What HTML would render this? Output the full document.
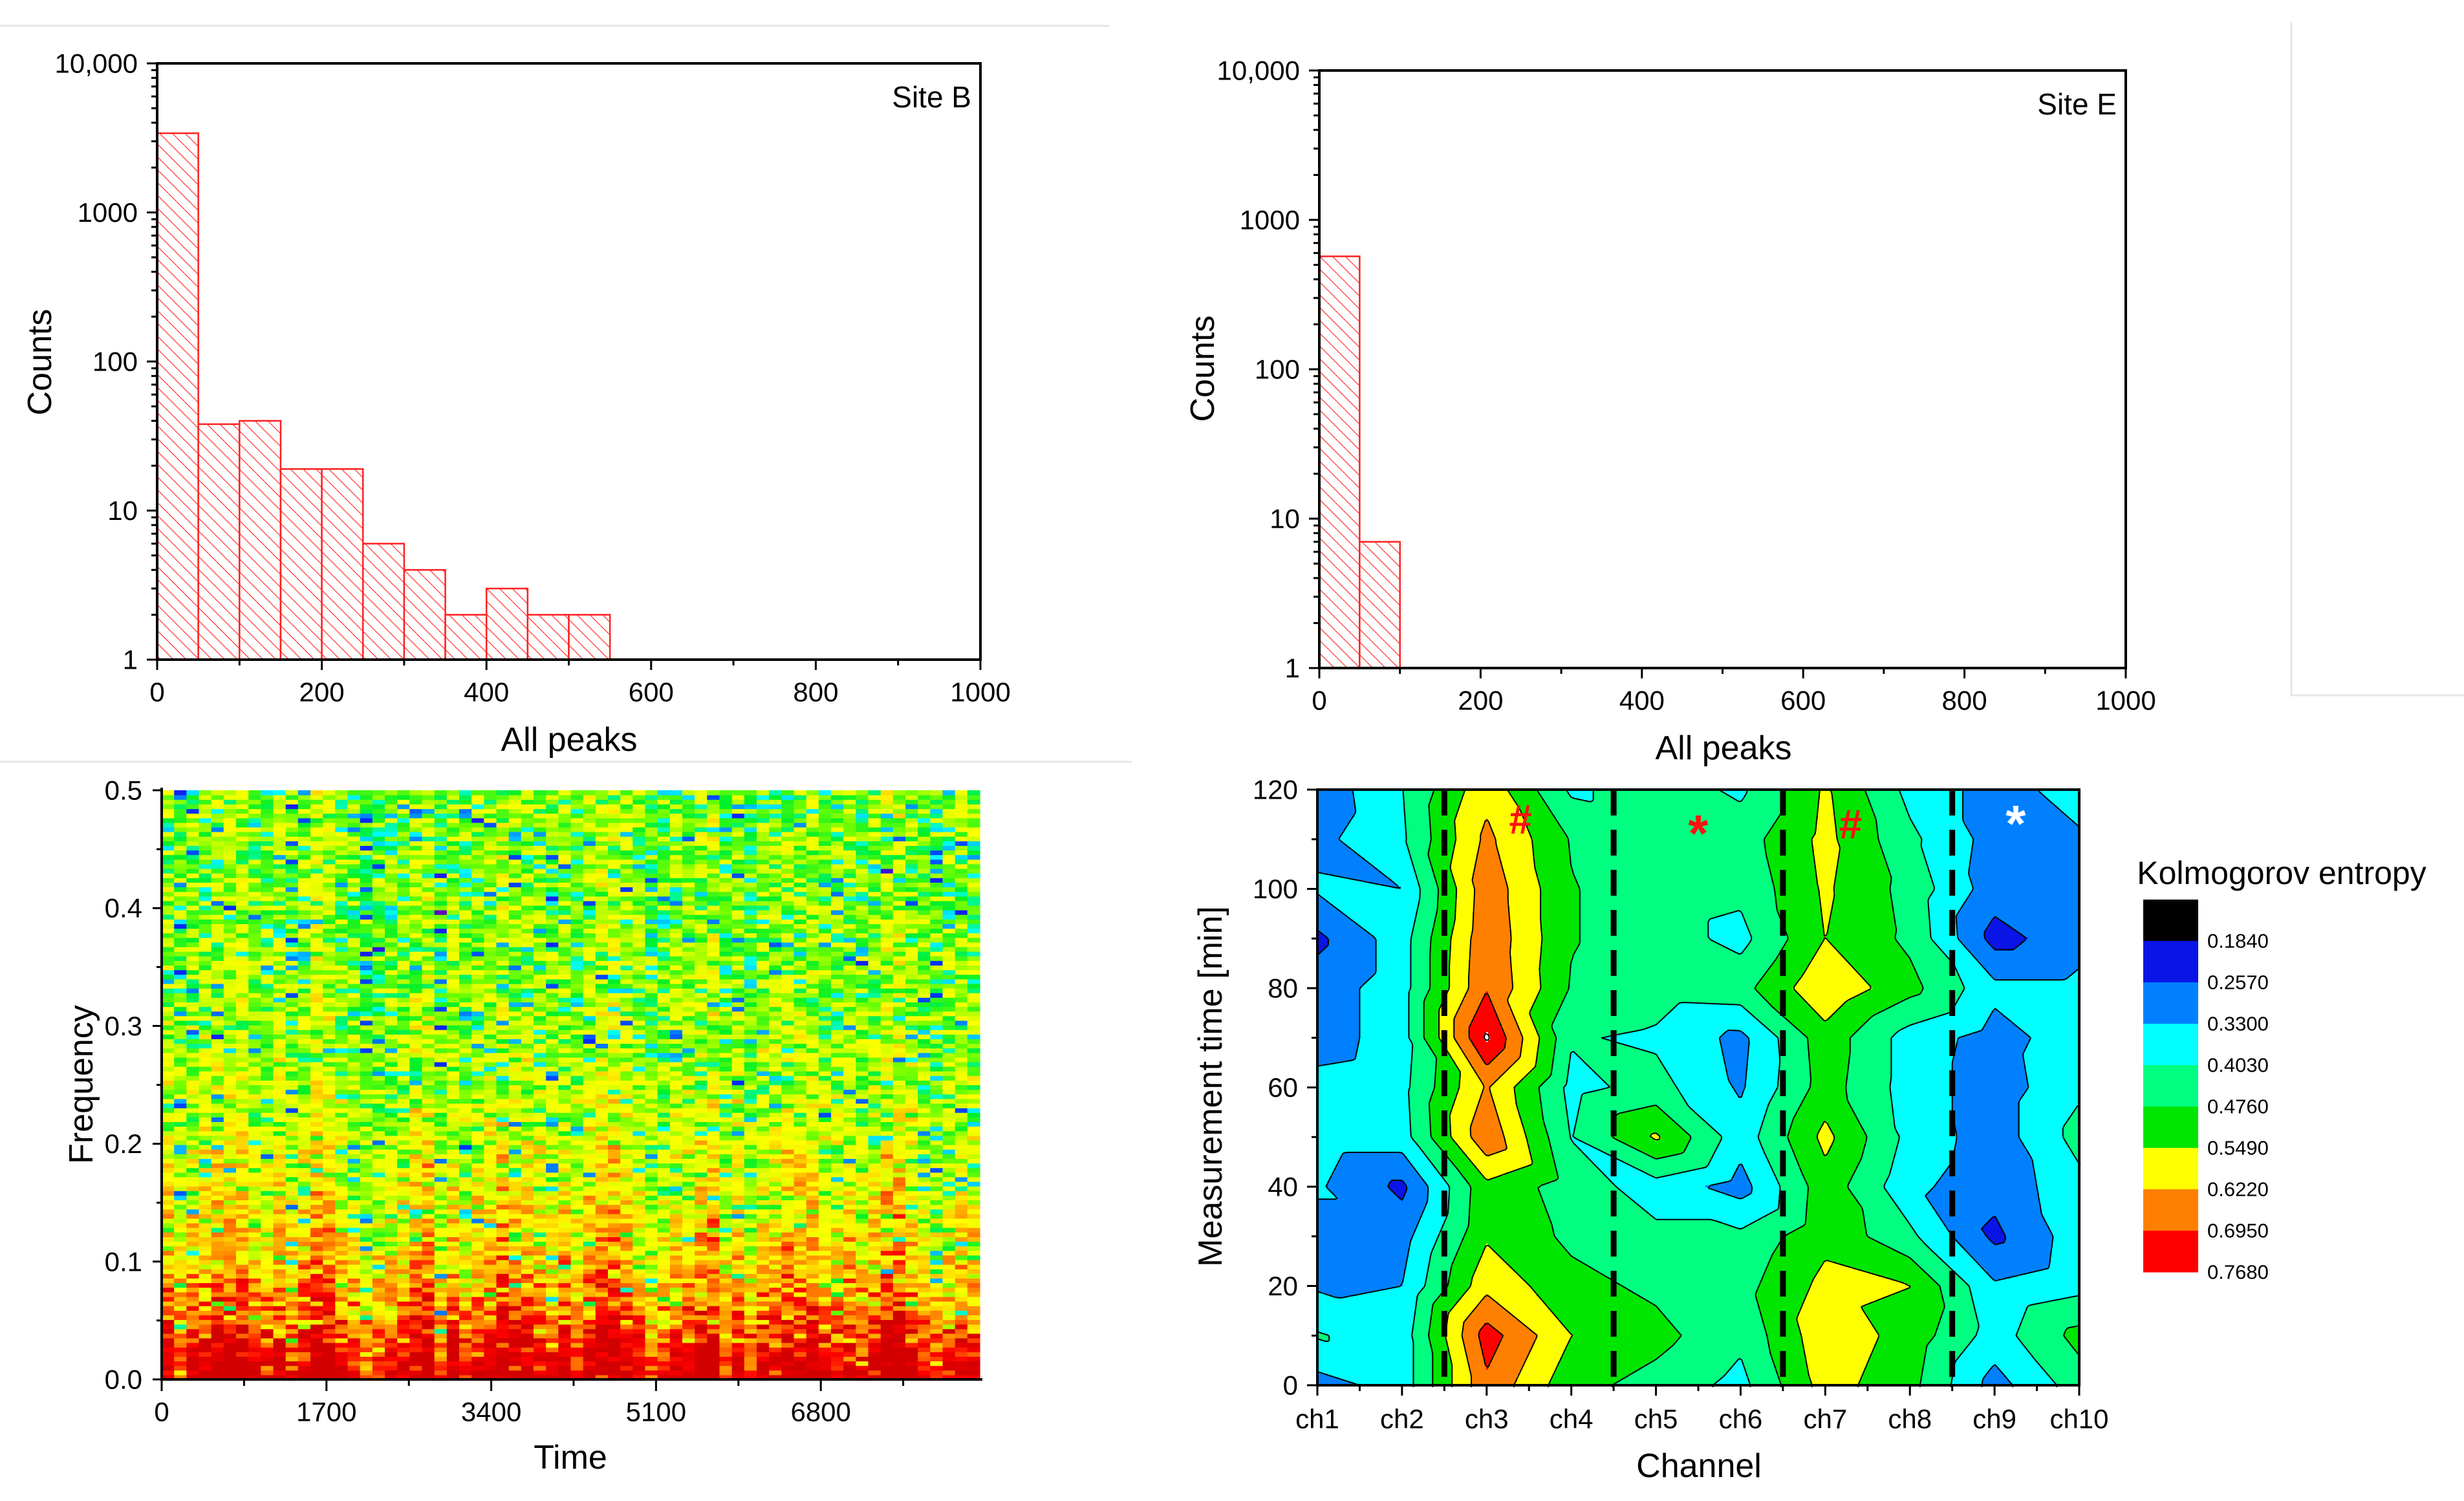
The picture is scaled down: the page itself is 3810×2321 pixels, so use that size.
<!DOCTYPE html>
<html><head><meta charset="utf-8">
<style>
html,body{margin:0;padding:0;background:#fff;}
svg{display:block;}
text{font-family:"Liberation Sans Narrow","Liberation Sans",sans-serif;fill:#000;}
.t{font-size:42px;}
.ttl{font-size:52px;font-family:"Liberation Sans",sans-serif;}
</style></head>
<body>
<svg id="root" xmlns="http://www.w3.org/2000/svg" width="3810" height="2321" viewBox="0 0 3810 2321">
<defs>
<pattern id="hatch" patternUnits="userSpaceOnUse" width="14" height="14" patternTransform="rotate(-45)">
<rect width="14" height="14" fill="#fff"/>
<line x1="0" y1="0" x2="0" y2="14" stroke="#ff3030" stroke-width="2.4"/>
</pattern>
</defs>
<line x1="0" y1="40" x2="1715" y2="40" stroke="#e6e6e6" stroke-width="3"/>
<line x1="0" y1="1178" x2="1750" y2="1178" stroke="#e6e6e6" stroke-width="3"/>
<path d="M3543 34 V1075 H3810" fill="none" stroke="#e6e6e6" stroke-width="3"/>
<g id="g1"></g>
<g id="g2"></g>
<g id="g3"></g>
<g id="g4"></g>
</svg>
<script>
// ---------- data ----------
const binEdgesB = [0,50,100,150,200,250,300,350,400,450,500,550];
const countsB = [3400,38,40,19,19,6,4,2,3,2,2];
const binEdgesE = [0,50,100];
const countsE = [570,7];
const histXTicks = [0,200,400,600,800,1000];
const histYTicks = [1,10,100,1000,10000];
const histYLabels = ["1","10","100","1000","10,000"];

// spectrogram: mean intensity profile over frequency (0..0.5 in steps of 0.025)
const specFreqProfile = [0.98,0.93,0.85,0.78,0.73,0.69,0.66,0.64,0.62,0.6,0.585,0.575,0.565,0.56,0.555,0.55,0.55,0.545,0.545,0.545,0.545];
const specNoise = [0.03,-0.06,0.08,-0.02,0.05,-0.09,0.01,0.07,-0.04,0.1,-0.08,0.02,-0.22,0.06,-0.03,0.09,-0.05,0.0,0.04,-0.11,0.07,-0.01,0.05,-0.07,0.11,-0.3,0.02,0.06,-0.04,0.08,-0.09,0.03,-0.02,0.1,-0.06,0.04,-0.15,0.07,0.01,-0.05,0.09,-0.03,0.05,-0.08,0.02,0.06,-0.38,0.08,-0.04,0.03,-0.1,0.07,0.0,-0.06,0.1,-0.02,0.04,-0.07,0.08,-0.18,0.05,-0.01,0.06,-0.09,0.03,0.09,-0.05,0.02,-0.12,0.07,-0.03,0.05,0.01,-0.08,0.1,-0.04,0.06,-0.25,0.03,0.08,-0.06,0.02,0.04,-0.1,0.09,-0.02,0.05];
const specColJitter = [0.02,-0.01,0.03,0.0,-0.02,0.04,0.01,-0.03,0.02,0.05,-0.01,0.0,0.03,-0.02,0.01,0.04,-0.03,0.02,0.0,0.03,-0.04,0.01,0.05];
const specXTicks = [0,1700,3400,5100,6800];
const specYTicks = [0,0.1,0.2,0.3,0.4,0.5];
const specCols = 66, specRows = 128, specXMax = 8440;

// contour grid: rows t=0..120 step 10, cols ch1..ch10
const chLabels = ["ch1","ch2","ch3","ch4","ch5","ch6","ch7","ch8","ch9","ch10"];
const timeTicks = [0,20,40,60,80,100,120];
const entropyCh1 = [0.30,0.41,0.32,0.30,0.34,0.37,0.36,0.29,0.29,0.24,0.34,0.31,0.28];
const entropyCh2 = [0.36,0.36,0.33,0.30,0.24,0.37,0.38,0.37,0.37,0.37,0.33,0.39,0.40];
const entropyCh3 = [0.68,0.73,0.60,0.54,0.53,0.68,0.63,0.78,0.69,0.68,0.67,0.64,0.60];
const entropyCh4 = [0.50,0.55,0.50,0.46,0.44,0.40,0.38,0.41,0.47,0.48,0.48,0.47,0.39];
const entropyCh5 = [0.45,0.50,0.46,0.42,0.37,0.56,0.43,0.39,0.44,0.44,0.44,0.44,0.44];
const entropyCh6 = [0.38,0.42,0.45,0.42,0.30,0.36,0.32,0.31,0.45,0.38,0.42,0.44,0.39];
const entropyCh7 = [0.58,0.60,0.57,0.53,0.52,0.57,0.51,0.52,0.61,0.55,0.56,0.57,0.56];
const entropyCh8 = [0.50,0.52,0.55,0.42,0.35,0.38,0.37,0.37,0.50,0.46,0.45,0.42,0.38];
const entropyCh9 = [0.30,0.37,0.34,0.24,0.28,0.29,0.29,0.30,0.35,0.23,0.29,0.30,0.30];
const entropyCh10 = [0.44,0.50,0.38,0.37,0.38,0.43,0.39,0.37,0.35,0.30,0.30,0.32,0.36];
const entropyLevels = [0.184,0.257,0.330,0.403,0.476,0.549,0.622,0.695,0.768];
const levelLabels = ["0.1840","0.2570","0.3300","0.4030","0.4760","0.5490","0.6220","0.6950","0.7680"];

// ---------- helpers ----------
const NS="http://www.w3.org/2000/svg";
function mk(tag, parent, attrs){const e=document.createElementNS(NS,tag);for(const k in attrs)e.setAttribute(k,attrs[k]);parent.appendChild(e);return e;}
function txt(parent,x,y,s,cls,anchor,extra){const e=mk('text',parent,Object.assign({x:x,y:y,'class':cls,'text-anchor':anchor||'middle','dominant-baseline':'central'},extra||{}));e.textContent=s;return e;}

// ---------- histograms ----------
function histogram(g, box, edges, counts, siteLabel, ylabX, ylabY, xlabX){
  const [L,T,R,B]=box;
  const xs=v=>L+v/1000*(R-L);
  const ys=v=>B-Math.log10(v)/4*(B-T);
  for(let i=0;i<counts.length;i++){
    const r=mk('rect',g,{x:xs(edges[i]),y:ys(counts[i]),width:xs(edges[i+1])-xs(edges[i]),height:B-ys(counts[i]),fill:'url(#hatch)',stroke:'#ff2020','stroke-width':2.5});
    
    
  }
  const fr=mk('rect',g,{x:L,y:T,width:R-L,height:B-T,fill:'none',stroke:'#000','stroke-width':4});
  
  
  let d='';
  histXTicks.forEach(v=>{d+=`M${xs(v)} ${B}v16`;});
  for(let v=100;v<1000;v+=200)d+=`M${xs(v)} ${B}v9`;
  histYTicks.forEach(v=>{d+=`M${L} ${ys(v)}h-16`;});
  for(let e=0;e<4;e++)for(let m=2;m<10;m++)d+=`M${L} ${ys(m*Math.pow(10,e))}h-9`;
  const tk=mk('path',g,{d:d,stroke:'#000','stroke-width':3,fill:'none'});
  
  
  histXTicks.forEach(v=>{const t=txt(g,xs(v),B+50,String(v),'t');});
  histYTicks.forEach((v,i)=>{const t=txt(g,L-30,ys(v),histYLabels[i],'t','end');});
  const s=txt(g,R-14,T+52,siteLabel,'t','end',{style:'font-size:46px'});
  
  
  const yl=txt(g,ylabX,ylabY,'Counts','ttl','middle',{transform:`rotate(-90 ${ylabX} ${ylabY})`});
  
  
  const xl=txt(g,xlabX,B+124,'All peaks','ttl');
  
  
}
histogram(document.getElementById('g1'),[243,98,1516,1020],binEdgesB,countsB,'Site B',62,560,880);
histogram(document.getElementById('g2'),[2040,109,3287,1033],binEdgesE,countsE,'Site E',1860,570,2665);

// ---------- spectrogram ----------
(function(){
  const g=document.getElementById('g3');
  const L=250,T=1222,R=1515,B=2133;
  const xs=v=>L+v/specXMax*(R-L);
  const ys=v=>B-v/0.5*(B-T);
  const stops=[[0,[96,0,192]],[0.15,[0,40,255]],[0.3,[0,170,255]],[0.38,[0,255,255]],[0.47,[0,240,40]],[0.56,[120,255,0]],[0.63,[230,255,0]],[0.7,[255,255,0]],[0.78,[255,180,0]],[0.86,[255,110,0]],[0.93,[255,0,0]],[1.0,[210,0,0]]];
  function cmap(v){v=Math.max(0,Math.min(1,v));for(let i=1;i<stops.length;i++){if(v<=stops[i][0]){const a=stops[i-1],b=stops[i],f=(v-a[0])/(b[0]-a[0]);const c=a[1].map((x,k)=>Math.round(x+(b[1][k]-x)*f));return `rgb(${c[0]},${c[1]},${c[2]})`;}}return 'rgb(210,0,0)';}
  const cw=(R-L)/specCols, rh=(B-T)/specRows;
  const cells=mk('g',g,{});
  
  
  const N=specNoise.length;
  for(let r=0;r<specRows;r++){
    const f=(r+0.5)/specRows*0.5;
    const p=f/0.025, i0=Math.min(Math.floor(p),specFreqProfile.length-2), fr=p-i0;
    const base=specFreqProfile[i0]*(1-fr)+specFreqProfile[i0+1]*fr;
    const amp=f<0.03?0.5:1;
    for(let c=0;c<specCols;c++){
      const i1=(r*r*7+c*31+r*c*3+5)%N;
      const i2=(c*c*11+r*17+r*r*c+3)%N;
      const n=specNoise[i1]+specNoise[i2]*0.6;
      const v=base+amp*n+specColJitter[(c*7)%specColJitter.length]*(f<0.2?2:1);
      const e=mk('rect',cells,{x:(L+c*cw).toFixed(1),y:(B-(r+1)*rh).toFixed(1),width:(cw+0.6).toFixed(1),height:(rh+0.6).toFixed(1),fill:cmap(v)});
      
      
    }
  }
  let d=`M${L} ${T-4}V${B}H${R+4}`;
  const ax=mk('path',g,{d:d,stroke:'#000','stroke-width':4,fill:'none'});
  
  
  let t='';
  specXTicks.forEach(v=>{t+=`M${xs(v)} ${B}v18`;});
  for(let v=850;v<specXMax;v+=1700)t+=`M${xs(v)} ${B}v10`;
  specYTicks.forEach(v=>{t+=`M${L} ${ys(v)}h-14`;});
  for(let v=0.05;v<0.5;v+=0.1)t+=`M${L} ${ys(v)}h-8`;
  const tk=mk('path',g,{d:t,stroke:'#000','stroke-width':3,fill:'none'});
  
  
  specXTicks.forEach(v=>{const e=txt(g,xs(v),B+50,String(v),'t');});
  specYTicks.forEach(v=>{const e=txt(g,L-30,ys(v),v.toFixed(1),'t','end');});
  const yl=txt(g,126,1677,'Frequency','ttl','middle',{transform:'rotate(-90 126 1677)'});
  
  
  const xl=txt(g,882,2254,'Time','ttl');
  
  
})();

// ---------- contour ----------
(function(){
  const g=document.getElementById('g4');
  const L=2037,T=1221,R=3215,B=2142;
  const cols=[entropyCh1,entropyCh2,entropyCh3,entropyCh4,entropyCh5,entropyCh6,entropyCh7,entropyCh8,entropyCh9,entropyCh10];
  const nC=cols.length, nT=cols[0].length;
  const xs=i=>L+i/(nC-1)*(R-L);
  const ys=v=>B-v/120*(B-T);
  function val(ci,ti){
    ci=Math.max(0,Math.min(nC-1.0001,ci));ti=Math.max(0,Math.min(nT-1.0001,ti));
    const i=Math.floor(ci),j=Math.floor(ti),a=ci-i,b=ti-j;
    const v00=cols[i][j],v10=cols[i+1][j],v01=cols[i][j+1],v11=cols[i+1][j+1];
    if(a+b<=1)return v00+(v10-v00)*a+(v01-v00)*b;
    return v11+(v01-v11)*(1-a)+(v10-v11)*(1-b);
  }
  const bandColors=['#000000','#0a14e6','#0080ff','#00ffff','#00ff80','#00e600','#ffff00','#ff8000','#ff0000','#ffffff'];
  function band(v){let k=0;while(k<entropyLevels.length&&v>=entropyLevels[k])k++;return k;}
  const fill=mk('g',g,{});
  
  
  const st=3;
  const W=R-L,H=B-T;
  for(let py=0;py<H;py+=st){
    const ti=(H-py-st/2)/H*(nT-1);
    let runStart=0,runBand=band(val((st/2)/W*(nC-1),ti));
    let px=st;
    while(true){
      const done=px>=W;
      const bnd=done?-1:band(val((px+st/2)/W*(nC-1),ti));
      if(bnd!==runBand){
        const e=mk('rect',fill,{x:L+runStart,y:T+py,width:Math.min(px,W)-runStart+0.6,height:st+0.6,fill:bandColors[runBand]});
        
        
        runStart=px;runBand=bnd;
      }
      if(done)break;
      px+=st;
    }
  }
  // contour lines (marching squares)
  const s=4, nx=Math.ceil(W/s), ny=Math.ceil(H/s);
  const grid=[];
  for(let j=0;j<=ny;j++){const row=[];for(let i=0;i<=nx;i++){row.push(val(Math.min(i*s,W)/W*(nC-1),(H-Math.min(j*s,H))/H*(nT-1)));}grid.push(row);}
  let d='';
  entropyLevels.forEach(lv=>{
    for(let j=0;j<ny;j++)for(let i=0;i<nx;i++){
      const a=grid[j][i],b=grid[j][i+1],c=grid[j+1][i+1],e=grid[j+1][i];
      const x0=L+i*s,y0=T+j*s;
      const pts=[];
      if((a>=lv)!==(b>=lv))pts.push([x0+s*(lv-a)/(b-a),y0]);
      if((b>=lv)!==(c>=lv))pts.push([x0+s,y0+s*(lv-b)/(c-b)]);
      if((e>=lv)!==(c>=lv))pts.push([x0+s*(lv-e)/(c-e),y0+s]);
      if((a>=lv)!==(e>=lv))pts.push([x0,y0+s*(lv-a)/(e-a)]);
      for(let k=0;k+1<pts.length;k+=2)d+=`M${pts[k][0].toFixed(1)} ${pts[k][1].toFixed(1)}L${pts[k+1][0].toFixed(1)} ${pts[k+1][1].toFixed(1)}`;
    }
  });
  const cl=mk('path',g,{d:d,stroke:'#000','stroke-width':2,fill:'none'});
  
  
  [1.5,3.5,5.5,7.5].forEach(c=>{
    const e=mk('line',g,{x1:xs(c),y1:T,x2:xs(c),y2:B,stroke:'#000','stroke-width':9,'stroke-dasharray':'40 22'});
    
    
  });
  [[2.4,114,'#','#ff1010'],[4.5,113,'*','#ff1010'],[6.3,113,'#','#ff1010'],[8.25,115,'*','#ffffff']].forEach(m=>{
    const e=txt(g,xs(m[0]),ys(m[1]),m[2],'t','middle',{style:`font-size:${m[2]==='*'?80:64}px;font-weight:bold;fill:${m[3]};font-family:'Liberation Sans',sans-serif`,dy:m[2]==='*'?'14':'0'});
    
    
  });
  const fr=mk('rect',g,{x:L,y:T,width:W,height:H,fill:'none',stroke:'#000','stroke-width':4});
  
  
  let t='';
  chLabels.forEach((c,i)=>{t+=`M${xs(i)} ${B}v16`;});
  for(let i=0.5;i<nC-1;i+=1)t+=`M${xs(i)} ${B}v9`;
  timeTicks.forEach(v=>{t+=`M${L} ${ys(v)}h-16`;});
  for(let v=10;v<120;v+=20)t+=`M${L} ${ys(v)}h-9`;
  const tk=mk('path',g,{d:t,stroke:'#000','stroke-width':3,fill:'none'});
  
  
  chLabels.forEach((c,i)=>{const e=txt(g,xs(i),B+52,c,'t');});
  timeTicks.forEach(v=>{const e=txt(g,L-30,ys(v),String(v),'t','end');});
  const yl=txt(g,1872,1680,'Measurement time [min]','ttl','middle',{transform:'rotate(-90 1872 1680)'});
  
  
  const xl=txt(g,2627,2267,'Channel','ttl');
  
  
  const cb=mk('g',g,{});
  
  
  for(let k=0;k<9;k++){
    const e=mk('rect',cb,{x:3314,y:1391+64*k,width:85,height:64.5,fill:bandColors[k]});
    
    
  }
  levelLabels.forEach((s,k)=>{const e=txt(cb,3413,1391+64*(k+1),s,'t','start',{style:'font-size:31px'});});
  const ct=txt(cb,3528,1350,'Kolmogorov entropy','ttl','middle',{style:'font-size:50px'});
  
  
})();
</script>
</body></html>
